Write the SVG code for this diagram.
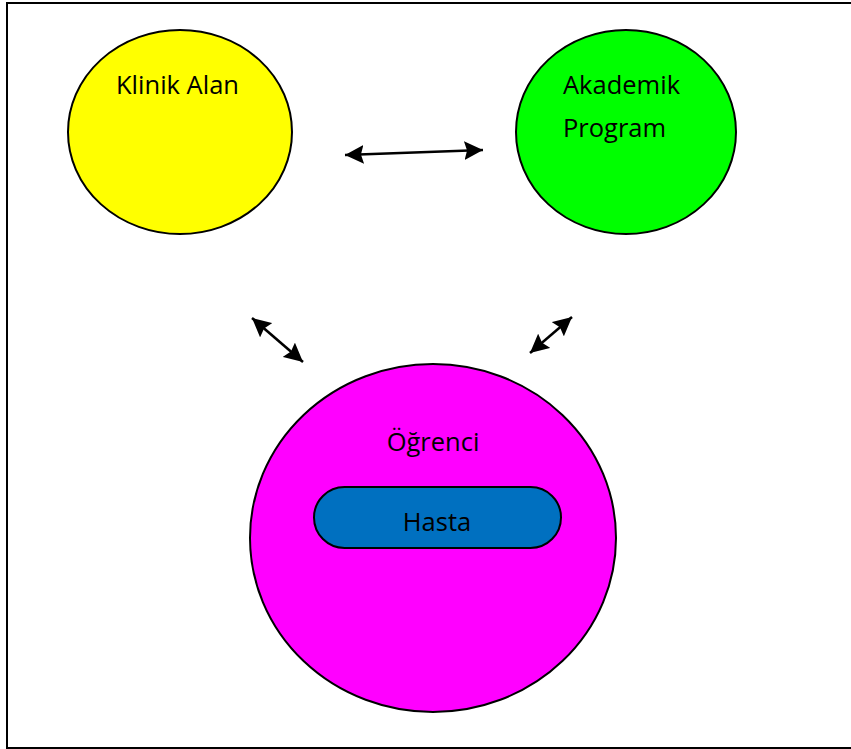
<svg xmlns="http://www.w3.org/2000/svg" width="851" height="749" viewBox="0 0 851 749">
<style>
.n{stroke:#000;stroke-width:2}
.t{font-family:"Open Sans","Liberation Sans",sans-serif;font-size:25.5px;fill:#000}
.c{stroke:#000;stroke-width:2.5;fill:none;marker-start:url(#a);marker-end:url(#a)}
</style>
<defs>
<marker id="a" viewBox="0 0 10 10" refX="10" refY="5" markerWidth="7.5" markerHeight="7.5" orient="auto-start-reverse" markerUnits="strokeWidth">
<path d="M0,0L10,5L0,10L1.5,5z" fill="#000"/>
</marker>
</defs>
<rect x="7" y="3" width="850" height="745" fill="#fff" stroke="#000" stroke-width="2"/>
<g id="klinik"><ellipse class="n" cx="180" cy="132" rx="112" ry="102" fill="#ffff00"/><text class="t" x="116" y="94">Klinik Alan</text></g>
<g id="akademik"><ellipse class="n" cx="626" cy="132" rx="110" ry="102" fill="#00ff00"/><text class="t" x="563" y="94">Akademik</text><text class="t" x="563" y="137">Program</text></g>
<g id="ogrenci"><ellipse class="n" cx="433" cy="538" rx="183" ry="174" fill="#ff00ff"/><text class="t" x="433" y="451" text-anchor="middle">Öğrenci</text></g>
<g id="hasta"><rect class="n" x="314" y="487" width="247" height="61" rx="30.5" fill="#0070c0"/><text class="t" x="437" y="531" text-anchor="middle">Hasta</text></g>
<g id="connectors">
<line class="c" x1="345" y1="155" x2="483" y2="150"/>
<line class="c" x1="252" y1="318" x2="303" y2="362"/>
<line class="c" x1="530" y1="353" x2="572" y2="317"/>
</g>
</svg>
